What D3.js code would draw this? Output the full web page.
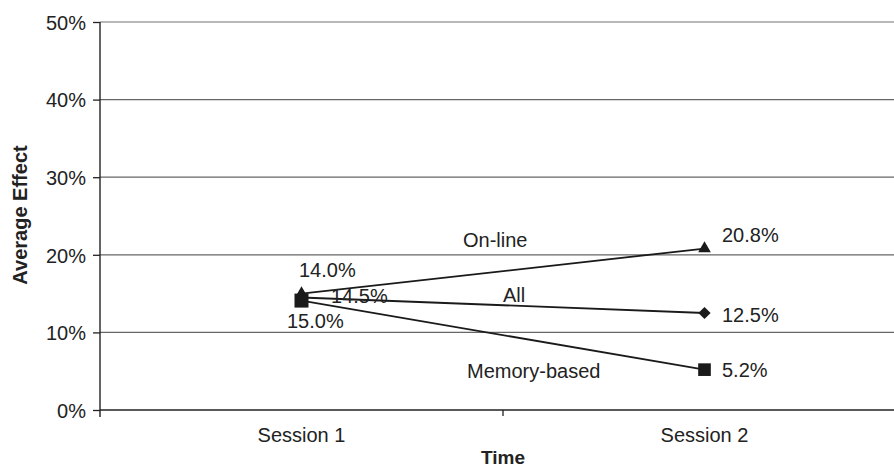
<!DOCTYPE html>
<html><head><meta charset="utf-8">
<script src="https://cdn.jsdelivr.net/npm/d3@7"></script>
<style>body{margin:0;background:#fff}text{font-family:"Liberation Sans",Arial,sans-serif}</style>
</head><body><svg id="c" width="894" height="468"></svg>
<script>
const categories = ["Session 1", "Session 2"];
const seriesNames = ["On-line", "All", "Memory-based"];
const onlineValues = [15.0, 20.8];
const allValues = [14.5, 12.5];
const memoryValues = [14.1, 5.2];
const onlineLabels = ["14.0%", "20.8%"];
const allLabels = ["14.5%", "12.5%"];
const memoryLabels = ["15.0%", "5.2%"];
const yTicks = [0, 10, 20, 30, 40, 50];

const svg = d3.select("#c");
const x = d3.scaleBand().domain(categories).range([100, 906]);
const y = d3.scaleLinear().domain([0, 50]).range([410, 22]);
const ink = "#222";

// gridlines
svg.append("g").selectAll("line").data(yTicks.filter(d => d > 0)).join("line")
  .attr("x1", 100).attr("x2", 894).attr("y1", d => y(d)).attr("y2", d => y(d))
  .attr("stroke", d => d === 50 ? "#a0a0a0" : "#666").attr("stroke-width", 1.3);

const yAxis = svg.append("g").attr("transform", "translate(100,0)")
  .call(d3.axisLeft(y).tickValues(yTicks).tickFormat(d => d + "%").tickSize(7).tickPadding(7));
yAxis.select(".domain").attr("d", "M0,417V22").attr("stroke", ink).attr("stroke-width", 1.4);
yAxis.selectAll("text").attr("font-size", 20).attr("fill", ink).attr("dy", "0.36em");
yAxis.selectAll(".tick line").attr("stroke", ink).attr("stroke-width", 1.3);

const xAxis = svg.append("g").attr("transform", "translate(0,410)");
xAxis.append("line").attr("x1", 100).attr("x2", 894).attr("stroke", ink).attr("stroke-width", 1.4);
xAxis.append("line").attr("x1", x(categories[1])).attr("x2", x(categories[1])).attr("y1", 0).attr("y2", 6).attr("stroke", ink).attr("stroke-width", 1.3);
xAxis.selectAll("text.cat").data(categories).join("text").attr("class", "cat")
  .attr("x", d => x(d) + x.bandwidth() / 2).attr("y", 32).attr("text-anchor", "middle")
  .attr("font-size", 20).attr("fill", ink).text(d => d);

svg.append("text").attr("x", 503).attr("y", 464).attr("text-anchor", "middle")
  .attr("font-size", 19).attr("font-weight", "bold").attr("fill", ink).text("Time");
svg.append("text").attr("transform", "translate(27,215) rotate(-90)").attr("text-anchor", "middle")
  .attr("font-size", 20).attr("font-weight", "bold").attr("fill", ink).text("Average Effect");

const cx = c => x(c) + x.bandwidth() / 2;
const series = [
  {name: seriesNames[0], vals: onlineValues, sym: d3.symbolTriangle, size: 70, rot: 0},
  {name: seriesNames[1], vals: allValues, sym: d3.symbolSquare, size: 75, rot: 45},
  {name: seriesNames[2], vals: memoryValues, sym: d3.symbolSquare, size: [196, 160], rot: 0}
];
const line = d3.line().x((d, i) => cx(categories[i])).y(d => y(d));
series.forEach(s => {
  svg.append("path").attr("d", line(s.vals)).attr("fill", "none").attr("stroke", "#1a1a1a").attr("stroke-width", 1.8);
});
[series[1], series[0], series[2]].forEach(s => {
  svg.append("g").selectAll("path").data(s.vals).join("path")
    .attr("d", (d, i) => d3.symbol().type(s.sym).size(Array.isArray(s.size) ? s.size[i] : s.size)())
    .attr("transform", (d, i) => `translate(${cx(categories[i])},${y(d)}) rotate(${s.rot})`)
    .attr("fill", "#1a1a1a");
});

// value labels
const lab = (t, xx, yy, anchor) => svg.append("text").attr("x", xx).attr("y", yy)
  .attr("text-anchor", anchor || "start").attr("font-size", 20).attr("fill", ink).text(t);
lab(onlineLabels[0], 299, 277);
lab(allLabels[0], 331, 303);
lab(memoryLabels[0], 287, 328);
lab(onlineLabels[1], 722, 242);
lab(allLabels[1], 722, 322);
lab(memoryLabels[1], 722, 377);
// series name labels
lab(seriesNames[0], 463, 247);
lab(seriesNames[1], 503, 302);
lab(seriesNames[2], 467, 378);
</script></body></html>
